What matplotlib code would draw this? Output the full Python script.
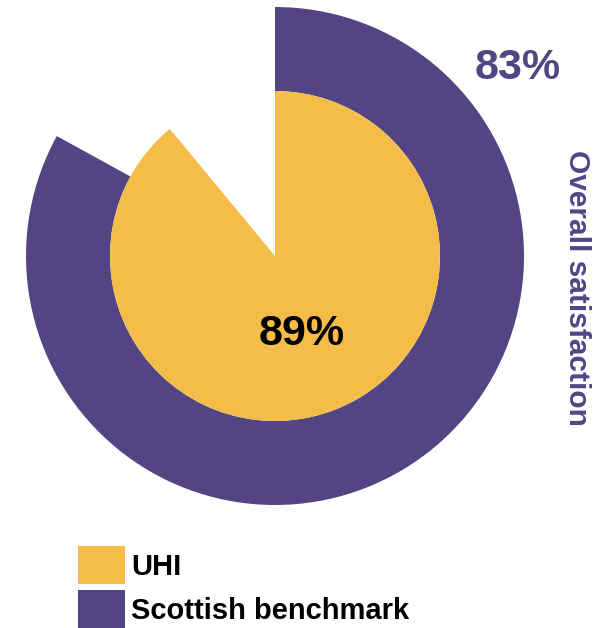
import matplotlib.pyplot as plt
from matplotlib.patches import Patch

plt.rcParams['font.family'] = ['Liberation Sans', 'DejaVu Sans']

# values
series = ["UHI", "Scottish benchmark"]
values = [0.89, 0.83]
labels = ["89%", "83%"]
measure = "Overall satisfaction"

yellow = "#F4BD4A"
purple = "#534584"

fig = plt.figure(figsize=(6.03, 6.28), dpi=100)
ax = fig.add_axes([0, 0, 1, 1])

cx, cy = 275, 628 - 256

# outer ring: benchmark
ax.pie([values[1], 1 - values[1]], colors=[purple, "none"], startangle=90,
       counterclock=False, radius=249, center=(cx, cy),
       wedgeprops=dict(width=84, linewidth=0))
# inner pie: UHI
ax.pie([values[0], 1 - values[0]], colors=[yellow, "none"], startangle=90,
       counterclock=False, radius=165, center=(cx, cy),
       wedgeprops=dict(linewidth=0))

ax.set_xlim(0, 603)
ax.set_ylim(0, 628)
ax.set_aspect("equal")
ax.axis("off")

ax.text(302, 628 - 334, labels[0], fontsize=31, fontweight="bold",
        color="black", ha="center", va="center")
ax.text(518, 628 - 68, labels[1], fontsize=31, fontweight="bold",
        color=purple, ha="center", va="center")
ax.text(577, 628 - 288, measure, fontsize=21.5, fontweight="bold",
        color=purple, ha="center", va="center", rotation=270)

handles = [Patch(facecolor=yellow, edgecolor="none"),
           Patch(facecolor=purple, edgecolor="none")]
ax.legend(handles, series, loc="upper left", bbox_to_anchor=(78 / 603, 1 - 546 / 628),
          bbox_transform=fig.transFigure, frameon=False, borderpad=0,
          borderaxespad=0, handlelength=1.6, handleheight=1.65,
          handletextpad=0.22, labelspacing=0.2,
          prop=dict(size=21, weight="bold"))

fig.savefig("out.png", dpi=100)
